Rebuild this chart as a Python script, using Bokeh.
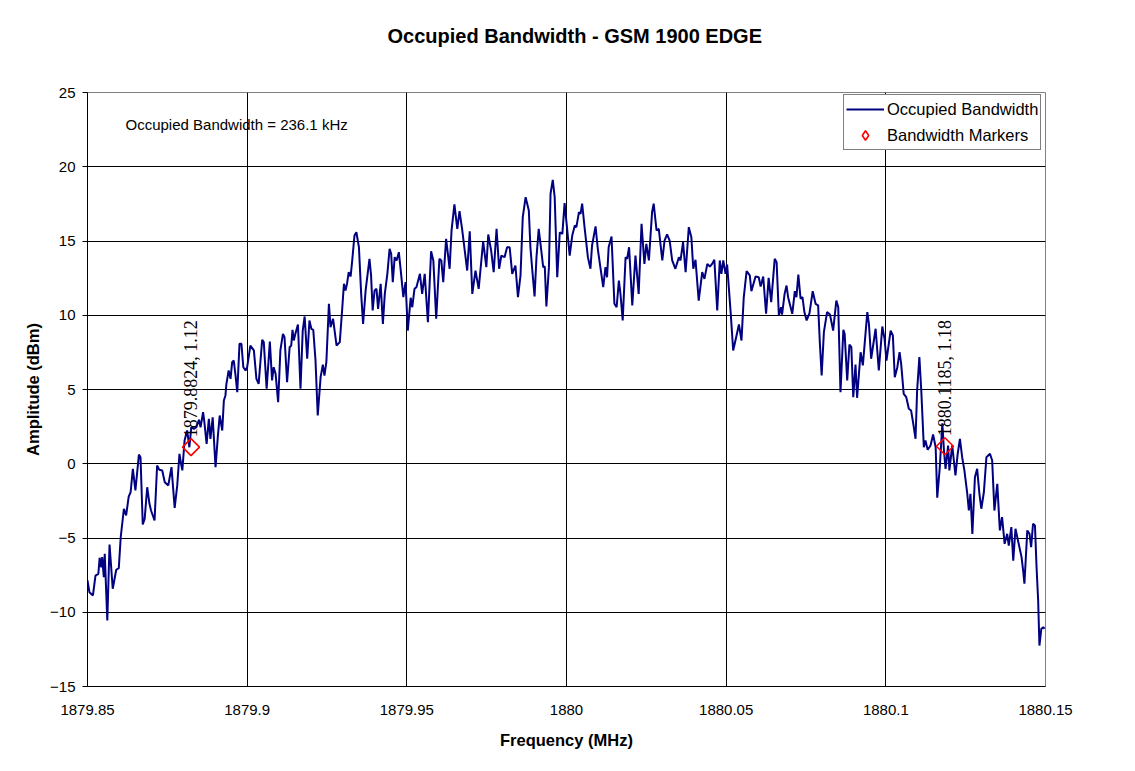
import numpy as np
from bokeh.plotting import figure
from bokeh.models import (ColumnDataSource, FixedTicker, CustomJSTickFormatter, Label,
                          LabelSet, Legend, LegendItem, Range1d)
from bokeh.embed import file_html
from bokeh.resources import INLINE

# ---------------- data ----------------
freq_mhz = [
    1879.8500, 1879.8506, 1879.8517, 1879.8525, 1879.8534, 1879.8538, 1879.8543, 1879.8546, 1879.8551, 1879.8554,
    1879.8562, 1879.8569, 1879.8579, 1879.8590, 1879.8598, 1879.8604, 1879.8614, 1879.8621, 1879.8629, 1879.8635,
    1879.8642, 1879.8650, 1879.8661, 1879.8666, 1879.8673, 1879.8679, 1879.8687, 1879.8694, 1879.8699, 1879.8710,
    1879.8718, 1879.8725, 1879.8734, 1879.8742, 1879.8753, 1879.8763, 1879.8773, 1879.8781, 1879.8788, 1879.8793,
    1879.8797, 1879.8804, 1879.8812, 1879.8819, 1879.8825, 1879.8833, 1879.8841, 1879.8849, 1879.8854, 1879.8862,
    1879.8866, 1879.8873, 1879.8880, 1879.8885, 1879.8892, 1879.8901, 1879.8908, 1879.8914, 1879.8922, 1879.8927,
    1879.8932, 1879.8935, 1879.8942, 1879.8948, 1879.8953, 1879.8958, 1879.8963, 1879.8969, 1879.8976, 1879.8982,
    1879.8988, 1879.8995, 1879.9000, 1879.9010, 1879.9021, 1879.9029, 1879.9036, 1879.9047, 1879.9052, 1879.9061,
    1879.9071, 1879.9078, 1879.9083, 1879.9089, 1879.9097, 1879.9104, 1879.9112, 1879.9117, 1879.9125, 1879.9133,
    1879.9138, 1879.9142, 1879.9146, 1879.9151, 1879.9159, 1879.9167, 1879.9174, 1879.9180, 1879.9188, 1879.9195,
    1879.9201, 1879.9207, 1879.9214, 1879.9221, 1879.9230, 1879.9237, 1879.9242, 1879.9248, 1879.9256, 1879.9261,
    1879.9269, 1879.9280, 1879.9290, 1879.9298, 1879.9303, 1879.9308, 1879.9313, 1879.9318, 1879.9324, 1879.9329,
    1879.9336, 1879.9342, 1879.9350, 1879.9357, 1879.9363, 1879.9371, 1879.9376, 1879.9383, 1879.9388, 1879.9393,
    1879.9399, 1879.9405, 1879.9410, 1879.9418, 1879.9425, 1879.9431, 1879.9439, 1879.9446, 1879.9451, 1879.9456,
    1879.9462, 1879.9468, 1879.9475, 1879.9482, 1879.9489, 1879.9496, 1879.9503, 1879.9512, 1879.9517, 1879.9524,
    1879.9530, 1879.9541, 1879.9548, 1879.9556, 1879.9566, 1879.9576, 1879.9583, 1879.9592, 1879.9602, 1879.9608,
    1879.9614, 1879.9623, 1879.9634, 1879.9640, 1879.9649, 1879.9658, 1879.9665, 1879.9673, 1879.9689, 1879.9697,
    1879.9705, 1879.9715, 1879.9725, 1879.9739, 1879.9749, 1879.9755, 1879.9764, 1879.9772, 1879.9781, 1879.9789,
    1879.9796, 1879.9806, 1879.9814, 1879.9822, 1879.9830, 1879.9840, 1879.9848, 1879.9856, 1879.9863, 1879.9872,
    1879.9882, 1879.9887, 1879.9893, 1879.9900, 1879.9906, 1879.9913, 1879.9921, 1879.9927, 1879.9932, 1879.9937,
    1879.9945, 1879.9950, 1879.9957, 1879.9963, 1879.9971, 1879.9979, 1879.9987, 1879.9994, 1880.0002, 1880.0010,
    1880.0018, 1880.0026, 1880.0031, 1880.0039, 1880.0044, 1880.0049, 1880.0056, 1880.0067, 1880.0075, 1880.0080,
    1880.0091, 1880.0098, 1880.0106, 1880.0115, 1880.0122, 1880.0127, 1880.0132, 1880.0141, 1880.0150, 1880.0157,
    1880.0164, 1880.0169, 1880.0176, 1880.0185, 1880.0190, 1880.0196, 1880.0206, 1880.0216, 1880.0226, 1880.0235,
    1880.0244, 1880.0250, 1880.0258, 1880.0268, 1880.0273, 1880.0282, 1880.0289, 1880.0300, 1880.0307, 1880.0315,
    1880.0323, 1880.0331, 1880.0341, 1880.0352, 1880.0357, 1880.0365, 1880.0373, 1880.0383, 1880.0391, 1880.0397,
    1880.0404, 1880.0414, 1880.0425, 1880.0432, 1880.0441, 1880.0449, 1880.0456, 1880.0463, 1880.0472, 1880.0480,
    1880.0485, 1880.0491, 1880.0498, 1880.0503, 1880.0514, 1880.0522, 1880.0529, 1880.0540, 1880.0548, 1880.0555,
    1880.0564, 1880.0574, 1880.0579, 1880.0592, 1880.0602, 1880.0608, 1880.0616, 1880.0625, 1880.0633, 1880.0641,
    1880.0652, 1880.0658, 1880.0665, 1880.0672, 1880.0675, 1880.0683, 1880.0689, 1880.0694, 1880.0707, 1880.0715,
    1880.0720, 1880.0726, 1880.0733, 1880.0739, 1880.0745, 1880.0752, 1880.0761, 1880.0771, 1880.0780, 1880.0788,
    1880.0793, 1880.0799, 1880.0806, 1880.0816, 1880.0825, 1880.0835, 1880.0845, 1880.0851, 1880.0858, 1880.0867,
    1880.0871, 1880.0879, 1880.0886, 1880.0892, 1880.0898, 1880.0905, 1880.0910, 1880.0921, 1880.0928, 1880.0942,
    1880.0947, 1880.0954, 1880.0968, 1880.0978, 1880.0989, 1880.0996, 1880.1002, 1880.1015, 1880.1022, 1880.1028,
    1880.1036, 1880.1043, 1880.1048, 1880.1056, 1880.1064, 1880.1072, 1880.1079, 1880.1086, 1880.1093, 1880.1098,
    1880.1105, 1880.1111, 1880.1119, 1880.1124, 1880.1131, 1880.1140, 1880.1148, 1880.1156, 1880.1161, 1880.1169,
    1880.1177, 1880.1182, 1880.1187, 1880.1195, 1880.1199, 1880.1208, 1880.1218, 1880.1225, 1880.1232, 1880.1239,
    1880.1246, 1880.1255, 1880.1260, 1880.1265, 1880.1271, 1880.1279, 1880.1286, 1880.1293, 1880.1299, 1880.1307,
    1880.1315, 1880.1326, 1880.1333, 1880.1340, 1880.1349, 1880.1357, 1880.1364, 1880.1372, 1880.1380, 1880.1385,
    1880.1393, 1880.1399, 1880.1406, 1880.1416, 1880.1425, 1880.1430, 1880.1434, 1880.1443, 1880.1450, 1880.1455,
    1880.1461, 1880.1467, 1880.1472, 1880.1477, 1880.1481, 1880.1487, 1880.1493, 1880.1497,
]

amp_dbm = [
    -7.86, -8.65, -8.87, -7.53, -7.41, -6.33, -6.97, -6.29, -7.64, -6.06,
    -10.56, -5.44, -8.42, -7.14, -7.03, -4.95, -3.03, -3.48, -2.21, -1.92,
    -0.34, -1.80, 0.62, 0.44, -4.09, -3.71, -1.58, -2.70, -3.15, -3.82,
    -0.12, -0.41, -0.45, -1.24, -1.46, -0.23, -2.97, -1.46, 0.67, 0.00,
    -0.45, 1.57, 2.24, 1.11, 2.46, 2.35, 2.46, 2.96, 2.46, 3.47,
    2.80, 1.34, 3.03, 1.68, 3.13, -0.23, 1.79, 3.25, 2.24, 4.26,
    4.60, 5.38, 6.28, 5.72, 6.84, 6.95, 6.06, 4.82, 8.08, 8.08,
    6.50, 6.28, 6.50, 7.96, 7.63, 5.72, 5.38, 8.35, 8.19, 5.05,
    8.23, 5.61, 6.50, 6.06, 4.14, 7.63, 8.75, 8.52, 5.49, 7.85,
    7.96, 9.02, 8.30, 8.75, 9.38, 5.05, 8.97, 9.92, 7.07, 9.65,
    9.09, 9.02, 6.95, 3.25, 5.83, 6.68, 5.94, 6.84, 10.77, 9.20,
    9.76, 7.96, 8.19, 10.54, 12.12, 11.67, 12.16, 12.90, 12.61, 13.69,
    15.37, 15.59, 14.58, 11.44, 9.42, 11.67, 12.56, 13.80, 12.68, 10.32,
    11.67, 11.78, 10.43, 12.12, 9.42, 11.44, 12.79, 14.47, 14.14, 12.23,
    13.91, 13.69, 14.25, 12.79, 11.22, 12.23, 8.97, 11.18, 10.54, 11.78,
    11.89, 12.79, 11.44, 12.79, 9.53, 14.31, 13.69, 9.76, 13.80, 13.69,
    12.23, 15.15, 13.13, 15.71, 17.46, 15.82, 17.01, 15.82, 13.01, 15.66,
    11.44, 13.01, 11.78, 14.97, 13.24, 15.44, 14.36, 12.90, 15.82, 13.13,
    14.02, 13.91, 14.58, 14.58, 12.79, 13.35, 11.22, 12.68, 16.60, 17.95,
    17.05, 14.58, 13.01, 11.26, 13.91, 15.82, 14.36, 13.24, 13.28, 10.59,
    13.24, 18.18, 19.12, 17.95, 12.56, 15.59, 15.48, 17.55, 15.82, 14.02,
    15.37, 16.04, 15.93, 16.94, 16.83, 17.51, 16.04, 13.91, 13.13, 14.70,
    15.98, 14.47, 13.24, 11.89, 13.24, 12.56, 14.58, 15.30, 10.77, 10.54,
    12.34, 11.44, 9.65, 13.91, 13.80, 14.58, 10.66, 14.02, 11.44, 16.16,
    13.46, 14.81, 13.69, 16.94, 17.51, 15.71, 15.82, 13.69, 15.03, 15.44,
    15.03, 13.69, 13.13, 13.91, 13.69, 14.92, 12.90, 15.93, 15.26, 13.13,
    13.73, 10.99, 12.90, 12.45, 13.46, 13.28, 13.46, 13.73, 10.32, 13.69,
    12.79, 13.69, 12.79, 13.42, 10.21, 7.63, 8.30, 9.38, 8.30, 11.18,
    12.97, 12.68, 11.62, 12.61, 12.56, 11.94, 12.61, 10.10, 12.52, 10.88,
    13.80, 13.57, 9.98, 10.54, 10.05, 11.44, 12.00, 11.22, 10.10, 11.62,
    11.22, 12.74, 11.11, 11.22, 10.21, 9.65, 10.14, 11.62, 10.77, 10.66,
    8.30, 5.94, 8.86, 10.21, 10.05, 8.97, 10.99, 10.54, 4.82, 9.02,
    8.75, 5.61, 8.03, 7.85, 4.48, 6.68, 4.44, 7.51, 6.62, 10.21,
    9.42, 7.07, 9.09, 6.28, 9.24, 8.41, 6.95, 8.97, 8.64, 5.83,
    6.50, 7.51, 6.73, 4.71, 4.48, 3.70, 3.59, 2.69, 1.68, 4.93,
    7.18, 4.93, 1.11, 1.57, 0.94, 1.23, 1.97, 1.11, -2.29, -0.23,
    2.73, 0.89, -0.34, 1.23, -0.45, 1.23, -0.79, 0.67, 1.68, 0.44,
    -0.45, -2.02, -3.15, -2.02, -4.72, -0.91, -0.34, -2.02, -3.03, -1.92,
    0.44, 0.67, 0.22, -3.15, -1.35, -4.49, -3.60, -5.39, -4.72, -5.51,
    -4.27, -6.52, -4.38, -5.39, -6.29, -7.19, -8.08, -4.49, -4.72, -5.62,
    -4.04, -4.16, -6.97, -9.21, -12.24, -11.11, -11.01, -11.11,
]

marker_freq = [1879.8824, 1880.1185]
marker_amp = [1.12, 1.18]

x_ticks = [1879.85, 1879.9, 1879.95, 1880.0, 1880.05, 1880.1, 1880.15]
y_ticks = [-15, -10, -5, 0, 5, 10, 15, 20, 25]

title_text = "Occupied Bandwidth - GSM 1900 EDGE"
obw_text = "Occupied Bandwidth = 236.1 kHz"
x_title = "Frequency (MHz)"
y_title = "Amplitude (dBm)"
series_names = ["Occupied Bandwidth", "Bandwidth Markers"]

FONT = "Liberation Sans"
LINE_COLOR = "#000080"
MARK_COLOR = "#FF0000"

# ---------------- figure ----------------
W, H = 1119, 755
p = figure(width=W, height=H, output_backend="svg", toolbar_location=None,
           x_range=Range1d(x_ticks[0], x_ticks[-1]), y_range=Range1d(y_ticks[0], y_ticks[-1]),
           min_border_left=87, min_border_right=74, min_border_top=92, min_border_bottom=69,
           background_fill_color="white", border_fill_color="white")

# range that puts the legend-only glyph far outside the frame
p.extra_y_ranges = {"legend_only": Range1d(1000, 1001)}

p.outline_line_color = "#808080"
p.outline_line_width = 1

# title (trailing empty line lifts the text up inside its panel)
p.title.text = title_text + "\n"
p.title.align = "left"
p.title.offset = 300
p.title.vertical_align = "top"
p.title.standoff = 44
p.title.text_font = FONT
p.title.text_font_style = "bold"
p.title.text_font_size = "20px"
p.title.text_color = "black"

# axes
for ax in (p.xaxis[0], p.yaxis[0]):
    ax.axis_line_color = "black"
    ax.major_tick_line_color = "black"
    ax.minor_tick_line_color = None
    ax.major_tick_in = 0
    ax.major_label_text_font = FONT
    ax.major_label_text_font_size = "15px"
    ax.major_label_text_color = "black"
    ax.axis_label_text_font = FONT
    ax.axis_label_text_font_style = "bold"
    ax.axis_label_text_font_size = "16.5px"
    ax.axis_label_text_color = "black"

p.xaxis.ticker = FixedTicker(ticks=x_ticks)
p.yaxis.ticker = FixedTicker(ticks=y_ticks)
p.xaxis.formatter = CustomJSTickFormatter(code="return Number(tick.toFixed(4)).toString();")
p.xaxis.major_tick_out = 0
p.xaxis.major_label_standoff = 18
p.xaxis.axis_label = x_title
p.xaxis.axis_label_standoff = 13
p.yaxis.major_tick_out = 5
p.yaxis.major_label_standoff = 7
p.yaxis.axis_label = y_title
p.yaxis.axis_label_standoff = 5

for g in (p.xgrid[0], p.ygrid[0]):
    g.grid_line_color = "black"
    g.grid_line_width = 1
    g.grid_line_alpha = 1.0

# series
src = ColumnDataSource(dict(x=freq_mhz, y=amp_dbm))
line_r = p.line("x", "y", source=src, line_color=LINE_COLOR, line_width=2)

msrc = ColumnDataSource(dict(
    x=marker_freq, y=marker_amp,
    txt=[f"{f:.4f}, {a:.2f}" for f, a in zip(marker_freq, marker_amp)],
))
mark_r = p.scatter("x", "y", source=msrc, marker="square", angle=np.pi / 4, size=12,
                   fill_color=None, line_color=MARK_COLOR, line_width=1.6)

# legend glyph: same marker data mapped onto an off-screen range, so only the legend shows it
legend_mark = p.scatter("x", "y", source=msrc, y_range_name="legend_only",
                        marker="diamond", size=12,
                        fill_color=None, line_color=MARK_COLOR, line_width=1.6)

labels = LabelSet(x="x", y="y", text="txt", source=msrc, angle=np.pi / 2,
                  text_align="left", text_baseline="middle", y_offset=10,
                  text_font=FONT, text_font_size="18px", text_color="black")
p.add_layout(labels)

# legend
legend = Legend(items=[LegendItem(label=series_names[0], renderers=[line_r]),
                       LegendItem(label=series_names[1], renderers=[legend_mark])],
                location=(756, 536), orientation="vertical",
                label_text_font=FONT, label_text_font_size="16.5px", label_text_color="black",
                glyph_width=38, glyph_height=24, label_height=24, label_standoff=3,
                spacing=2, padding=2, margin=0,
                border_line_color="black", border_line_width=1,
                background_fill_color="white", background_fill_alpha=1.0)
p.add_layout(legend)

# text box
p.add_layout(Label(x=38, y=562, x_units="screen", y_units="screen", text=obw_text,
                   text_align="left", text_baseline="middle", text_font=FONT,
                   text_font_size="15px", text_color="black"))

open("out.html", "w").write(file_html(p, INLINE))
